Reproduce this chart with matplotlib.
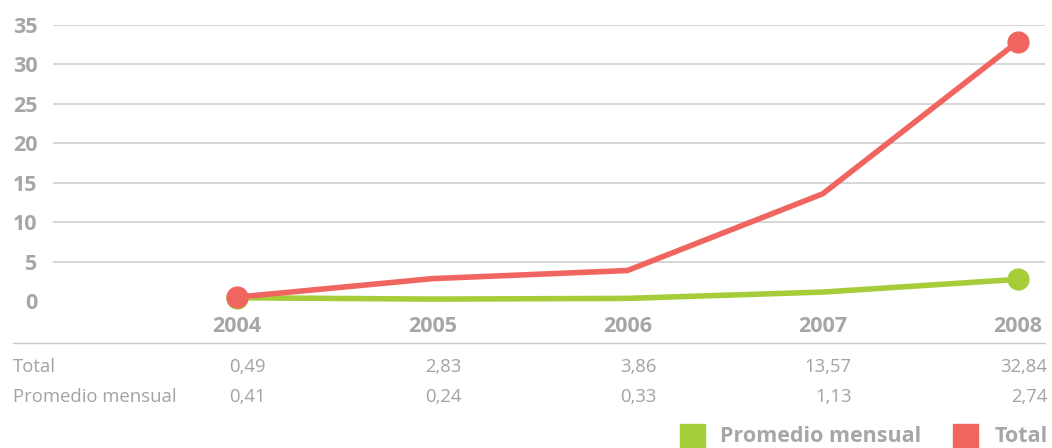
import numpy as np
import matplotlib.pyplot as plt
import matplotlib.transforms as mtransforms
from matplotlib.patches import Rectangle

plt.rcParams['font.family'] = ['Open Sans', 'DejaVu Sans']

years = [2004, 2005, 2006, 2007, 2008]
total = [0.49, 2.83, 3.86, 13.57, 32.84]
promedio = [0.41, 0.24, 0.33, 1.13, 2.74]
total_labels = ['0,49', '2,83', '3,86', '13,57', '32,84']
promedio_labels = ['0,41', '0,24', '0,33', '1,13', '2,74']
y_ticks = [0, 5, 10, 15, 20, 25, 30, 35]

red = '#f0655f'
green = '#a5cd39'
label_grey = '#a6a6a9'
table_grey = '#a3a3a3'

W, H = 1052, 448
fig = plt.figure(figsize=(W / 100, H / 100), dpi=100)
# axes box in pixels: x 53..1045, y 24.5..301
ax = fig.add_axes([53 / W, 1 - 301 / H, (1045 - 53) / W, (301 - 24.5) / H])

# markers only at the first and last point
ax.plot(years, promedio, color=green, lw=4, marker='o', ms=15, markevery=[0, 4],
        clip_on=False, zorder=3, solid_capstyle='round')
ax.plot(years, total, color=red, lw=4, marker='o', ms=15, markevery=[0, 4],
        clip_on=False, zorder=4, solid_capstyle='round')

ax.set_xlim(2004 - (237 - 53) / 195.25, 2008 + (1045 - 1018) / 195.25)
ax.set_ylim(0, 35)
ax.set_yticks(y_ticks)
ax.set_yticklabels([str(v) for v in y_ticks], fontsize=15.5, fontweight='bold',
                   color=label_grey)
ax.tick_params(axis='y', length=0, pad=11)
ax.set_xticks([])
for v in y_ticks[1:]:
    ax.axhline(v, color='#cfcfd1', lw=1.2, zorder=1)
for s in ax.spines.values():
    s.set_visible(False)

trans = mtransforms.blended_transform_factory(ax.transData, fig.transFigure)

def fy(py):
    return 1 - py / H

# year labels
for yr in years:
    ax.text(yr, fy(326), str(yr), transform=trans, ha='center', va='center',
            fontsize=15.5, fontweight='bold', color=label_grey)

# separator line under the years
fig.add_artist(plt.Line2D([13 / W, 1045 / W], [fy(343), fy(343)],
                          color='#c8c8ca', lw=1))

# table rows
fig.text(13 / W, fy(367), 'Total', ha='left', va='center', fontsize=13.3,
         color=table_grey)
fig.text(13 / W, fy(397), 'Promedio mensual', ha='left', va='center',
         fontsize=13.3, color=table_grey)
for yr, t, p in zip(years, total_labels, promedio_labels):
    ax.text(yr + 29 / 195.25, fy(367), t, transform=trans, ha='right',
            va='center', fontsize=13.3, color=table_grey)
    ax.text(yr + 29 / 195.25, fy(397), p, transform=trans, ha='right',
            va='center', fontsize=13.3, color=table_grey)

# legend
fig.add_artist(Rectangle((680 / W, fy(448)), 25 / W, 24 / H,
                         transform=fig.transFigure, color=green))
fig.text(720 / W, fy(436), 'Promedio mensual', ha='left', va='center',
         fontsize=15.5, fontweight='bold', color=label_grey)
fig.add_artist(Rectangle((953 / W, fy(448)), 25 / W, 24 / H,
                         transform=fig.transFigure, color=red))
fig.text(995 / W, fy(436), 'Total', ha='left', va='center',
         fontsize=15.5, fontweight='bold', color=label_grey)

fig.savefig('out.png', dpi=100)
